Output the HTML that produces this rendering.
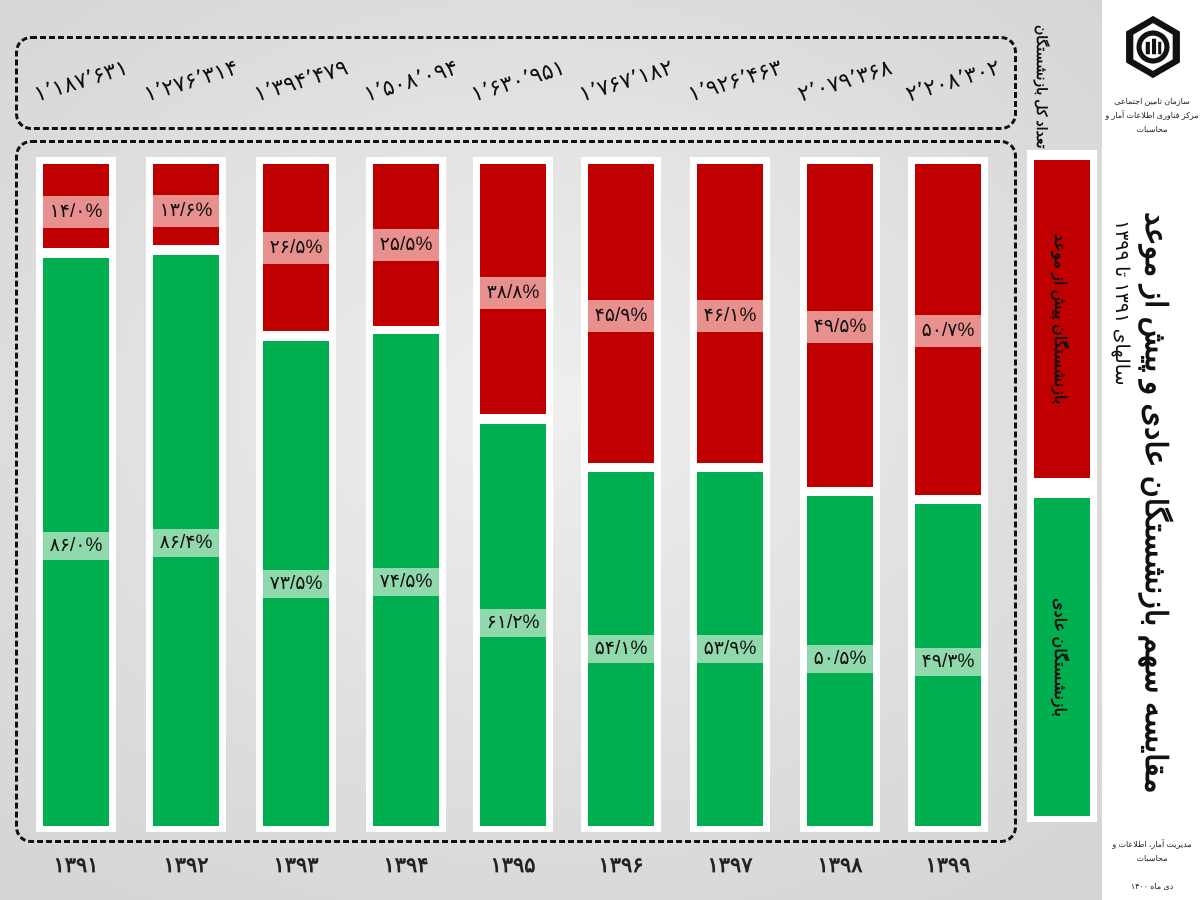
<!DOCTYPE html>
<html><head><meta charset="utf-8"><style>
body{margin:0;width:1200px;height:900px;overflow:hidden;position:relative;font-family:"Liberation Sans","Noto Sans CJK SC",sans-serif;
background:radial-gradient(ellipse at 45% 45%,#efefef 0%,#dcdcdc 60%,#d2d2d2 100%);}
.a{position:absolute}
.dash{position:absolute;border:3px dashed #111;border-radius:16px}
.frame{position:absolute;background:#fff}
.red{position:absolute;background:#c00000}
.grn{position:absolute;background:#00b050}
.lr{position:absolute;background:#e8908e;color:#111;font-size:19px;text-align:center;height:32px;line-height:32px}
.lg{position:absolute;background:#8fd9ac;color:#111;font-size:19px;text-align:center;height:28px;line-height:28px}
.num{position:absolute;font-size:22px;transform:rotate(-17deg);white-space:nowrap;width:110px;text-align:center;color:#111}
.yr{position:absolute;font-size:21px;font-weight:bold;width:100px;text-align:center;top:853px;color:#222}
.vt{position:absolute;writing-mode:vertical-rl;white-space:nowrap;text-align:center}
</style></head><body>
<div class="a" style="left:1102px;top:0;width:98px;height:900px;background:#fff"></div>
<div class="dash" style="left:15px;top:36px;width:996px;height:88px"></div>
<div class="dash" style="left:15px;top:140px;width:996px;height:697px"></div>
<div id="c"></div>
<div class="frame" style="left:1027px;top:150px;width:70px;height:672px"></div>
<div class="red" style="left:1034px;top:160px;width:56px;height:318px"></div>
<div class="grn" style="left:1034px;top:498px;width:56px;height:318px"></div>
<div class="vt" style="left:1050px;top:160px;height:318px;font-size:16px;font-weight:bold;color:#111">بازنشستگان پیش از موعد</div>
<div class="vt" style="left:1050px;top:498px;height:318px;font-size:16px;font-weight:bold;color:#111">بازنشستگان عادی</div>
<div class="vt" style="left:1034px;top:25px;height:110px;font-size:14px;font-weight:bold;color:#111">تعداد کل بازنشستگان</div>
<div class="vt" style="left:1134px;top:190px;height:625px;font-size:30px;font-weight:bold;color:#111;line-height:42px">مقایسه سهم بازنشستگان عادی و پیش از موعد</div>
<div class="vt" style="left:1110px;top:188px;height:230px;font-size:19px;color:#111">سالهای ۱۳۹۱ تا ۱۳۹۹</div>
<svg class="a" style="left:1124px;top:12px" width="58" height="70" viewBox="0 0 56 64"><polygon points="28,2 54,17 54,47 28,62 2,47 2,17" fill="#111"/><polygon points="28,9 47,20 47,44 28,55 9,44 9,20" fill="#fff"/><circle cx="28" cy="32" r="16" fill="#111"/><circle cx="28" cy="32" r="11" fill="#fff"/><rect x="21" y="27" width="4" height="12" fill="#111"/><rect x="27" y="24" width="4" height="15" fill="#111"/><rect x="33" y="27" width="3" height="12" fill="#111"/></svg>
<div class="a" style="left:1104px;top:95px;width:96px;text-align:center;font-size:8px;line-height:14px;color:#222">سازمان تامین اجتماعی<br>مرکز فناوری اطلاعات آمار و محاسبات</div>
<div class="a" style="left:1104px;top:838px;width:96px;text-align:center;font-size:8px;line-height:14px;color:#222">مدیریت آمار، اطلاعات و محاسبات<br><br>دی ماه ۱۴۰۰</div>
<script>
var d=[[1,248,258,212,546,"۱۴/۰%","۸۶/۰%","۱٬۱۸۷٬۶۳۱","۱۳۹۱"],
[1,245,255,211,543,"۱۳/۶%","۸۶/۴%","۱٬۲۷۶٬۳۱۴","۱۳۹۲"],
[1,331,341,248,584,"۲۶/۵%","۷۳/۵%","۱٬۳۹۴٬۴۷۹","۱۳۹۳"],
[1,326,334,245,582,"۲۵/۵%","۷۴/۵%","۱٬۵۰۸٬۰۹۴","۱۳۹۴"],
[1,414,424,293,623,"۳۸/۸%","۶۱/۲%","۱٬۶۳۰٬۹۵۱","۱۳۹۵"],
[1,463,472,316,649,"۴۵/۹%","۵۴/۱%","۱٬۷۶۷٬۱۸۲","۱۳۹۶"],
[1,463,472,316,649,"۴۶/۱%","۵۳/۹%","۱٬۹۲۶٬۴۶۳","۱۳۹۷"],
[1,487,496,327,659,"۴۹/۵%","۵۰/۵%","۲٬۰۷۹٬۳۶۸","۱۳۹۸"],
[1,495,504,331,662,"۵۰/۷%","۴۹/۳%","۲٬۲۰۸٬۳۰۲","۱۳۹۹"]];
var xs=[36,146,256,366,473,581,690,800,908],h="";
d.forEach(function(r,i){var x=xs[i];
h+='<div class="frame" style="left:'+x+'px;top:157px;width:80px;height:675px"></div>';
h+='<div class="red" style="left:'+(x+7)+'px;top:164px;width:66px;height:'+(r[1]-164)+'px"></div>';
h+='<div class="grn" style="left:'+(x+7)+'px;top:'+r[2]+'px;width:66px;height:'+(826-r[2])+'px"></div>';
h+='<div class="lr" style="left:'+(x+7)+'px;top:'+(r[3]-16)+'px;width:66px">'+r[5]+'</div>';
h+='<div class="lg" style="left:'+(x+7)+'px;top:'+(r[4]-14)+'px;width:66px">'+r[6]+'</div>';
h+='<div class="num" style="left:'+(x-10)+'px;top:68px">'+r[7]+'</div>';
h+='<div class="yr" style="left:'+(x-10)+'px">'+r[8]+'</div>';});
document.getElementById('c').innerHTML=h;
</script>
</body></html>
